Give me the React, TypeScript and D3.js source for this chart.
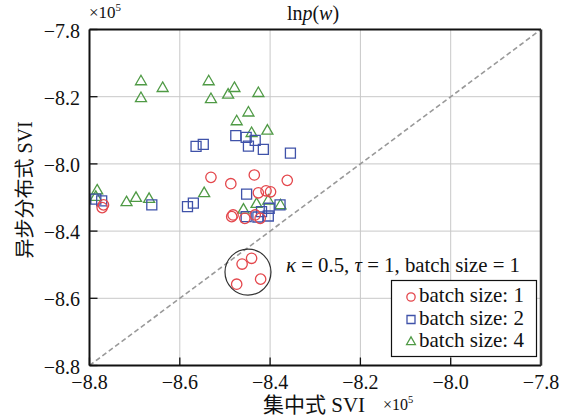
import React from "react";
import * as d3 from "d3";

// Axis ticks (data units) and the labels printed at them
const xTicks = [-8.8, -8.6, -8.4, -8.2, -8.0, -7.8];
const xTickLabels = ["−8.8", "−8.6", "−8.4", "−8.2", "−8.0", "−7.8"];
const yTicks = [-7.8, -8.0, -8.2, -8.4, -8.6, -8.8];
const yTickLabels = ["−7.8", "−8.2", "−8.0", "−8.4", "−8.6", "−8.8"];

// batch size 1 : [centralised SVI, asynchronous distributed SVI] (×10^5)
const batch1: [number, number][] = [
  [-8.531, -8.240], [-8.487, -8.259], [-8.435, -8.233], [-8.362, -8.249],
  [-8.426, -8.286], [-8.409, -8.280], [-8.399, -8.283], [-8.482, -8.352],
  [-8.485, -8.357], [-8.456, -8.362], [-8.433, -8.352], [-8.422, -8.362],
  [-8.772, -8.330], [-8.769, -8.322],
  [-8.462, -8.498], [-8.441, -8.481], [-8.421, -8.543], [-8.474, -8.558],
];

// batch size 2
const batch2: [number, number][] = [
  [-8.564, -8.148], [-8.548, -8.142], [-8.476, -8.116], [-8.453, -8.121],
  [-8.433, -8.130], [-8.448, -8.147], [-8.415, -8.157], [-8.355, -8.168],
  [-8.452, -8.290], [-8.570, -8.317], [-8.583, -8.327], [-8.662, -8.322],
  [-8.773, -8.310], [-8.786, -8.305], [-8.453, -8.357], [-8.419, -8.342],
  [-8.402, -8.332], [-8.378, -8.322], [-8.404, -8.355], [-8.427, -8.358],
];

// batch size 4
const batch4: [number, number][] = [
  [-8.686, -7.955], [-8.686, -8.005], [-8.638, -7.975], [-8.536, -7.955],
  [-8.531, -8.008], [-8.493, -7.995], [-8.479, -7.975], [-8.426, -7.990],
  [-8.448, -8.048], [-8.474, -8.074], [-8.406, -8.102], [-8.441, -8.109],
  [-8.546, -8.288], [-8.718, -8.315], [-8.697, -8.302], [-8.668, -8.305],
  [-8.783, -8.280], [-8.786, -8.299], [-8.404, -8.310], [-8.377, -8.324],
  [-8.430, -8.320], [-8.459, -8.337],
];

const legendLabels = ["batch size: 1", "batch size: 2", "batch size: 4"];

// highlighted group (κ = 0.5, τ = 1, batch size = 1)
const highlightCenter: [number, number] = [-8.449, -8.522];

const W = 571;
const H = 419;
const M = { left: 89.5, right: 541, top: 29.5, bottom: 365.5 };

const RED = "#e4474c";
const BLUE = "#3f52a9";
const GREEN = "#4f9a45";
const SERIF = "'Liberation Serif', 'Times New Roman', serif";
const CJK = "'Liberation Serif', 'Noto Sans CJK SC', serif";

const x = d3.scaleLinear().domain([-8.8, -7.8]).range([M.left, M.right]);
const y = d3.scaleLinear().domain([-8.8, -7.8]).range([M.bottom, M.top]);

const tri = (side: number) =>
  d3.symbol(d3.symbolTriangle, (Math.sqrt(3) / 4) * side * side)()!;
const sq = (side: number) => d3.symbol(d3.symbolSquare, side * side)()!;

function Marker({ kind, cx, cy, small }: { kind: number; cx: number; cy: number; small?: boolean }) {
  const s = small ? 0.8 : 1;
  if (kind === 0)
    return <circle cx={cx} cy={cy} r={5.2 * s} fill="none" stroke={RED} strokeWidth={1.3} />;
  if (kind === 1)
    return <path d={sq(10 * s)} transform={`translate(${cx},${cy})`} fill="none" stroke={BLUE} strokeWidth={1.3} />;
  return <path d={tri(11 * s)} transform={`translate(${cx},${cy})`} fill="none" stroke={GREEN} strokeWidth={1.3} />;
}

export default function App() {
  const series = [batch1, batch2, batch4];
  return (
    <svg width={W} height={H} style={{ position: "absolute", left: 0, top: 0, background: "#fff" }}>
      {/* grid */}
      {xTicks.slice(1, -1).map((t) => (
        <line key={"gx" + t} x1={x(t)} x2={x(t)} y1={M.top} y2={M.bottom} stroke="#c8c8c8" strokeWidth={1} />
      ))}
      {yTicks.slice(1, -1).map((t) => (
        <line key={"gy" + t} x1={M.left} x2={M.right} y1={y(t)} y2={y(t)} stroke="#c8c8c8" strokeWidth={1} />
      ))}

      {/* y = x reference */}
      <line x1={x(-8.8)} y1={y(-8.8)} x2={x(-7.8)} y2={y(-7.8)} stroke="#999" strokeWidth={1.6} strokeDasharray="5,3" />

      {/* points, largest batch first */}
      {[2, 1, 0].map((k) =>
        series[k].map((d, i) => <Marker key={k + "-" + i} kind={k} cx={x(d[0])} cy={y(d[1])} />)
      )}

      {/* highlight ring */}
      <circle cx={x(highlightCenter[0])} cy={y(highlightCenter[1])} r={23} fill="none" stroke="#333" strokeWidth={1.2} />
      <text x={286} y={272} fontFamily={SERIF} fontSize={20.8} fill="#111">
        <tspan fontStyle="italic">κ</tspan> = 0.5, <tspan fontStyle="italic">τ</tspan> = 1, batch size = 1
      </text>

      {/* legend */}
      <rect x={391.5} y={280.5} width={145} height={76} fill="#fff" stroke="#111" strokeWidth={1.2} />
      {legendLabels.map((l, i) => (
        <g key={l}>
          <Marker kind={i} cx={411} cy={297 + i * 22.5} small />
          <text x={419} y={302 + i * 22.5} fontFamily={SERIF} fontSize={21} fill="#111">{l}</text>
        </g>
      ))}

      {/* ticks */}
      {yTicks.map((t, i) => (
        <g key={"ty" + t}>
          <line x1={M.left} x2={M.left + 8} y1={y(t)} y2={y(t)} stroke="#111" strokeWidth={1.3} />
          <text x={80} y={y(t) + 8} textAnchor="end" fontFamily={SERIF} fontSize={20} fill="#111">{yTickLabels[i]}</text>
        </g>
      ))}
      {xTicks.map((t, i) => (
        <g key={"tx" + t}>
          <line x1={x(t)} x2={x(t)} y1={M.bottom} y2={M.bottom - 8} stroke="#111" strokeWidth={1.3} />
          <text x={x(t)} y={389} textAnchor="middle" fontFamily={SERIF} fontSize={20} fill="#111">{xTickLabels[i]}</text>
        </g>
      ))}

      {/* frame */}
      <line x1={M.left} x2={M.right} y1={M.top} y2={M.top} stroke="#111" strokeWidth={2} />
      <line x1={M.left} x2={M.right} y1={M.bottom} y2={M.bottom} stroke="#111" strokeWidth={2} />
      <line x1={M.left} x2={M.left} y1={M.top} y2={M.bottom} stroke="#111" strokeWidth={2} />
      <line x1={M.right} x2={M.right} y1={M.top} y2={M.bottom} stroke="#333" strokeWidth={2.5} />

      {/* titles */}
      <text x={89} y={18} fontFamily={SERIF} fontSize={17} fill="#111">
        ×10<tspan dy={-7} fontSize={11}>5</tspan>
      </text>
      <text x={313} y={20} textAnchor="middle" fontFamily={SERIF} fontSize={20} fill="#111">
        ln<tspan fontStyle="italic">p</tspan>(<tspan fontStyle="italic">w</tspan>)
      </text>
      <text x={263} y={412} fontFamily={CJK} fontSize={21} fill="#111">集中式 SVI</text>
      <text x={383} y={410} fontFamily={SERIF} fontSize={16} fill="#111">
        ×10<tspan dy={-7} fontSize={10.5}>5</tspan>
      </text>
      <text transform="translate(32,190) rotate(-90)" textAnchor="middle" fontFamily={CJK} fontSize={20} fill="#111">
        异步分布式 SVI
      </text>
    </svg>
  );
}
